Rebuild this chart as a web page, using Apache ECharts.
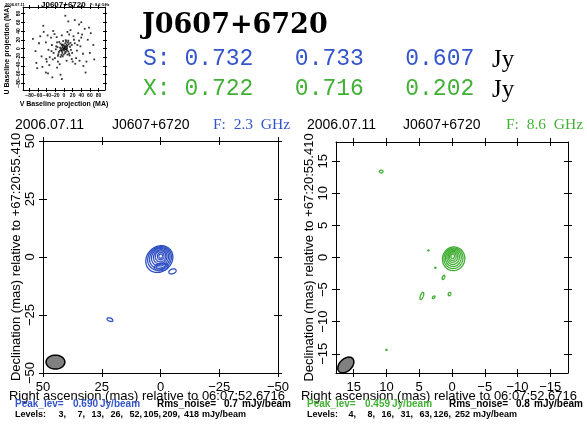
<!DOCTYPE html>
<html><head><meta charset="utf-8">
<script src="https://cdn.jsdelivr.net/npm/echarts@6/dist/echarts.min.js"></script>
<style>html,body{margin:0;padding:0;background:#fff}#c{width:587px;height:429px}</style>
</head><body><div id="c"></div>
<script>
// ---------------- data ----------------
const sourceName = 'J0607+6720';
const obsDate = '2006.07.11';
const rowS = 'S: 0.732   0.733   0.607';
const rowX = 'X: 0.722   0.716   0.202';
const sTicks = [50, 25, 0, -25, -50];
const xRaTicks = [15, 10, 5, 0, -5, -10, -15];
const xDecTicks = [-15, -10, -5, 0, 5, 10, 15];
const uvTicks = [-80, -60, -40, -20, 0, 20, 40, 60, 80];
const sPeak = '0.690', sRms = '0.7';
const xPeak = '0.459', xRms = '0.8';
const sLevels = [3, 7, 13, 26, 52, 105, 209, 418];
const xLevels = [4, 8, 16, 31, 63, 126, 252];
// contour rings: [RA offset mas, Dec offset mas, semi-major, semi-minor, angle deg]
const sContours = [
  [0.5, -0.9, 6.2, 5.3, 135], [0.4, -0.6, 5.4, 4.7, 135], [0.3, -0.4, 4.7, 4.1, 130],
  [0.2, -0.1, 3.9, 3.5, 125], [0.1, 0.1, 3.1, 2.8, 120], [0.0, 0.3, 2.4, 2.2, 110],
  [-0.1, 0.4, 1.6, 1.4, 100], [-0.1, 0.4, 0.9, 0.8, 90],
  [-0.3, -4.3, 3.0, 1.6, 170], [-0.3, -4.1, 2.1, 1.0, 170],
  [-5.1, -6.2, 1.6, 1.0, 160], [21.5, -27.0, 1.3, 0.7, 20]
];
const xContours = [
  [-0.25, -0.2, 1.85, 1.7, 100], [-0.22, -0.12, 1.6, 1.45, 100], [-0.2, -0.05, 1.35, 1.2, 100],
  [-0.17, 0.02, 1.1, 0.95, 100], [-0.14, 0.1, 0.85, 0.72, 100], [-0.12, 0.15, 0.6, 0.5, 100],
  [-0.1, 0.2, 0.35, 0.28, 100],
  [10.8, 13.4, 0.22, 0.28, 90], [3.6, 1.1, 0.08, 0.1, 90], [2.55, -1.6, 0.08, 0.1, 90],
  [1.3, -3.1, 0.35, 0.18, 110], [4.6, -6.0, 0.6, 0.22, 110], [2.8, -6.2, 0.25, 0.14, 135],
  [0.37, -5.7, 0.28, 0.2, 110], [10.0, -14.4, 0.08, 0.1, 90]
];
const sBeam = [[44.7, -45.3, 4.0, 3.0, 0]];
const xBeam = [[16.2, -16.75, 1.45, 0.95, 135]];
// UV coverage points [V, U] in mega-lambda
const uvPoints = [
  [2,3],[-3,5],[5,-2],[-6,-4],[8,6],[-9,2],[10,-7],[-4,-10],[3,12],[-12,-8],[14,4],[-1,-14],[6,9],[-8,11],[12,-12],
  [-15,3],[0,7],[4,-8],[-7,-1],[9,14],[-13,-13],[16,-3],[-2,17],[1,-5],[-5,8],[7,1],[-10,-5],[11,10],[-3,-18],[18,8],
  [-18,5],[5,16],[-6,-15],[13,-16],[-16,14],[2,-11],[-11,15],[15,13],[-14,-17],[8,-14],[0,0],[-2,-3],[3,-1],[-4,2],
  [6,4],[19,-10],[-19,-2],[4,19],[-8,-19],[10,18],[1,2],[-1,-1],[3,5],[-5,-6],[7,-4],[-3,9],
  [25,12],[-24,-10],[30,-5],[-28,8],[22,28],[-26,-25],[35,18],[-33,-20],[12,32],[-14,-30],[28,-22],[-30,25],[38,5],
  [-36,-3],[20,-30],[-22,33],[40,25],[-41,-24],[8,38],[-10,-36],[33,35],[-34,-38],[26,-35],[-25,40],[44,-12],[-42,14],
  [15,42],[-16,-44],[36,-28],[-38,30],[23,20],[-21,-22],[31,8],[-29,-6],[18,-24],[-17,26],[42,32],[-40,-30],[6,-28],[-5,30],
  [55,20],[-52,-18],[48,45],[-50,-42],[60,-10],[-58,12],[35,55],[-37,-57],[62,35],[-64,-33],[45,-40],[-47,38],[10,62],
  [-8,-60],[68,8],[-66,-6],[52,-30],[-55,28],[25,65],[-27,-66],[-62,-45],[58,48],[3,75],[-5,-70],[70,-25],[-72,22],
  [40,60],[-42,-55],[50,-55],[-48,52]
];

// ---------------- styles ----------------
const BLUE = '#2e4fc2', GREEN = '#3fae33', BLUE_T = '#3355cc', GREEN_T = '#41b034';
const SANS = 'Liberation Sans', SERIF = 'Liberation Serif', MONO = 'Liberation Mono';
const minus = v => String(v).replace('-', '\u2212');

const xAxes = [], yAxes = [];
function addSide(list, base, pos, ticks, labelCfg, nameCfg) {
  const main = Object.assign({}, base, {
    position: pos,
    axisLine: { show: true, onZero: false, lineStyle: { color: '#000', width: 1 } },
    axisTick: { show: true, inside: true, length: 4, customValues: ticks, lineStyle: { color: '#000' } },
    axisLabel: labelCfg ? Object.assign({ show: true, customValues: ticks, formatter: minus, color: '#000', fontFamily: SANS }, labelCfg) : { show: false },
    splitLine: { show: false }
  }, nameCfg || {});
  list.push(main);
  const idx = list.length - 1;
  list.push(Object.assign({}, base, {
    position: pos,
    axisLine: { show: false, onZero: false },
    axisTick: { show: true, inside: false, length: 4, customValues: ticks, lineStyle: { color: '#000' } },
    axisLabel: { show: false }, splitLine: { show: false }
  }));
  return idx;
}
function panel(gi, xr, yr, xt, yt, yName, fs) {
  const xb = { gridIndex: gi, type: 'value', min: xr[0], max: xr[1], inverse: true };
  const yb = { gridIndex: gi, type: 'value', min: yr[0], max: yr[1] };
  const xi = addSide(xAxes, xb, 'bottom', xt, { fontSize: fs, margin: 8 });
  addSide(xAxes, xb, 'top', xt, null);
  const yi = addSide(yAxes, yb, 'left', yt, { fontSize: fs, rotate: 90, margin: 6 },
    { name: yName, nameLocation: 'middle', nameRotate: 90, nameGap: 13,
      nameTextStyle: { fontFamily: SANS, fontSize: fs, color: '#000' } });
  addSide(yAxes, yb, 'right', yt, null);
  return [xi, yi];
}
const decName = 'Declination (mas) relative to +67:20:55.410';
const [sxi, syi] = panel(1, [-50, 50], [-50, 50], sTicks, sTicks, decName, 13);
const [xxi, xyi] = panel(2, [-17.7, 17.7], [-18, 18], xRaTicks, xDecTicks, decName, 13);

// inset UV axes
const ub = { gridIndex: 0, type: 'value', min: -95, max: 95 };
const uxi = addSide(xAxes, ub, 'bottom', uvTicks, { fontSize: 5, margin: 3, fontWeight: 'bold' });
addSide(xAxes, ub, 'top', uvTicks, null);
const uyi = addSide(yAxes, ub, 'left', uvTicks, { fontSize: 5, margin: 2, rotate: 90, fontWeight: 'bold' });
addSide(yAxes, ub, 'right', uvTicks, null);
[xAxes, yAxes].forEach(l => l.forEach(a => { if (a.gridIndex === 0) { a.axisTick.length = 2; } }));

function ellipseRender(fill, stroke, lw) {
  return function (params, api) {
    const cx = api.value(0), cy = api.value(1), a = api.value(2), b = api.value(3);
    const t = api.value(4) * Math.PI / 180;
    const pts = [];
    for (let i = 0; i < 72; i++) {
      const p = i / 72 * 2 * Math.PI, dx = a * Math.cos(p), dy = b * Math.sin(p);
      pts.push(api.coord([cx + dx * Math.cos(t) - dy * Math.sin(t), cy + dx * Math.sin(t) + dy * Math.cos(t)]));
    }
    return { type: 'polygon', shape: { points: pts }, style: { fill: fill, stroke: stroke, lineWidth: lw } };
  };
}
function ellSeries(data, xi, yi, fill, stroke, lw) {
  return { type: 'custom', xAxisIndex: xi, yAxisIndex: yi, data: data, clip: true,
    dimensions: ['ra', 'dec', 'a', 'b', 'ang'], encode: { x: 0, y: 1 },
    renderItem: ellipseRender(fill, stroke, lw), silent: true, animation: false };
}

function txt(x, y, text, font, fill, extra) {
  return Object.assign({ type: 'text', x: x, y: y, silent: true,
    style: Object.assign({ text: text, font: font, fill: fill, textVerticalAlign: 'middle', textAlign: 'left' }, (extra && extra.style) || {}) },
    extra ? { rotation: extra.rotation || 0 } : {});
}
const FOOT = 'bold 10px ' + SANS;
const FOOT2 = 'bold 9px ' + SANS;
function footer(x0, peak, rms, col, levels, e0, step) {
  const out = [
    txt(x0, 404, 'Peak_lev=', FOOT, col),
    txt(x0 + 58, 404, peak, FOOT, col),
    txt(x0 + 85, 404, 'Jy/beam', FOOT, col),
    txt(x0 + 142, 404, 'Rms_noise=', FOOT, '#000'),
    txt(x0 + 209, 404, rms, FOOT, '#000'),
    txt(x0 + 227, 404, 'mJy/beam', FOOT, '#000'),
    txt(x0, 415, 'Levels:', FOOT2, '#000')
  ];
  levels.forEach((v, i) => {
    const last = i === levels.length - 1;
    out.push(txt(e0 + i * step, 415, String(v) + (last ? '' : ','), FOOT2, '#000', { style: { textAlign: 'right' } }));
    if (last) out.push(txt(e0 + i * step + 3, 415, 'mJy/beam', FOOT2, '#000'));
  });
  return out;
}
const raName = 'Right ascension (mas) relative to 06:07:52.6716';
const graphics = [
  // inset labels
  txt(5, 5, obsDate, 'bold 4px ' + SANS, '#000'),
  txt(41, 5, sourceName, 'bold 8px ' + SANS, '#000'),
  txt(90, 5, 'F: 8.6 GHz', 'bold 4px ' + SANS, '#000'),
  txt(64, 104, 'V Baseline projection (MA)', 'bold 7px ' + SANS, '#000', { style: { textAlign: 'center' } }),
  txt(7, 50, 'U Baseline projection (MA)', 'bold 7px ' + SANS, '#000', { rotation: Math.PI / 2, style: { textAlign: 'center' } }),
  // header
  txt(142, 26, sourceName, 'bold 27px "DejaVu Serif"', '#000'),
  txt(143, 59, rowS, '23px ' + MONO, BLUE_T),
  txt(492, 60, 'Jy', '25px ' + SERIF, '#000'),
  txt(143, 89, rowX, '23px ' + MONO, GREEN_T),
  txt(492, 90, 'Jy', '25px ' + SERIF, '#000'),
  // panel titles
  txt(15, 125, obsDate, '14px ' + SANS, '#000'),
  txt(112, 125, sourceName, '14px ' + SANS, '#000'),
  txt(213, 125, 'F:  2.3  GHz', '15.5px ' + SERIF, BLUE_T),
  txt(307, 125, obsDate, '14px ' + SANS, '#000'),
  txt(403, 125, sourceName, '14px ' + SANS, '#000'),
  txt(506, 125, 'F:  8.6  GHz', '15.5px ' + SERIF, GREEN_T),
  // axis names
  txt(147, 396, raName, '13px ' + SANS, '#000', { style: { textAlign: 'center' } }),
  txt(439, 396, raName, '13px ' + SANS, '#000', { style: { textAlign: 'center' } })
].concat(
  footer(15, sPeak, sRms, BLUE_T, sLevels, 66, 19),
  footer(307, xPeak, xRms, GREEN_T, xLevels, 356, 19)
);

const chart = echarts.init(document.getElementById('c'), null, { renderer: 'canvas' });
chart.setOption({
  animation: false,
  backgroundColor: '#fff',
  grid: [
    { left: 23, top: 7, width: 82, height: 83 },
    { left: 43, top: 141, width: 235, height: 232 },
    { left: 336, top: 142, width: 232, height: 231 }
  ],
  xAxis: xAxes,
  yAxis: yAxes,
  series: [
    { type: 'scatter', xAxisIndex: uxi, yAxisIndex: uyi, data: uvPoints, symbol: 'rect', symbolSize: 1.8,
      itemStyle: { color: '#000' }, silent: true },
    ellSeries(sContours, sxi, syi, 'none', BLUE, 1.3),
    ellSeries(sBeam, sxi, syi, '#808080', '#000', 1.5),
    ellSeries(xContours, xxi, xyi, 'none', GREEN, 1.3),
    ellSeries(xBeam, xxi, xyi, '#808080', '#000', 1.5)
  ],
  graphic: graphics
});
</script>
</body></html>
